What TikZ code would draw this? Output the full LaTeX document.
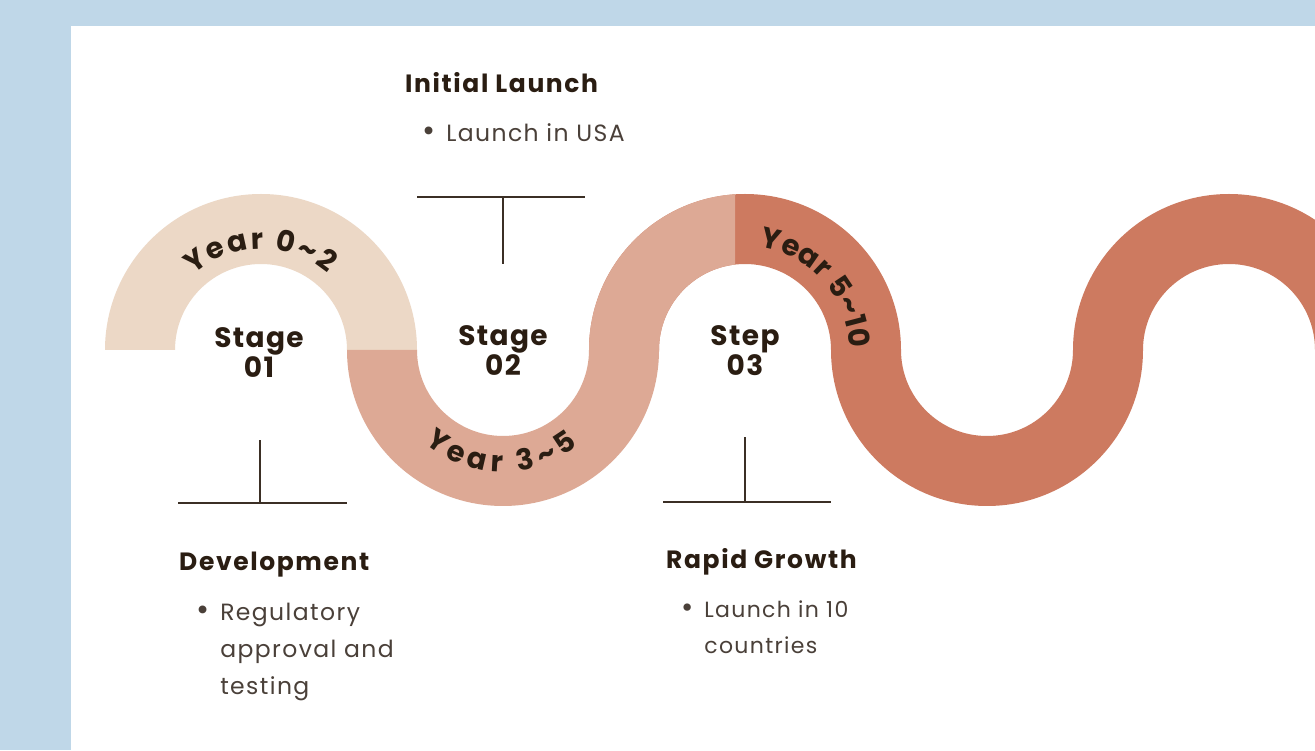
\documentclass[tikz,border=0pt]{standalone}
\usepackage{fontspec}
\setmainfont{Poppins}
\newfontfamily\headfont{Poppins}[LetterSpace=6.5]
\newfontfamily\bodyfont{Poppins}[LetterSpace=6]
\newfontfamily\stagefont{Poppins}[LetterSpace=5]
\usetikzlibrary{decorations.text}
\definecolor{bgblue}{HTML}{BFD7E8}
\definecolor{cbeige}{HTML}{ECD8C6}
\definecolor{csalmon}{HTML}{DDA995}
\definecolor{cterra}{HTML}{CD7A60}
\definecolor{ink}{HTML}{2A1D12}
\definecolor{bodyink}{HTML}{4A4039}
\definecolor{lineink}{HTML}{3B2F25}
\tikzset{
  head/.style={font=\headfont\fontsize{25}{28}\selectfont\bfseries, text=ink, inner sep=0pt},
  bodytext/.style={font=\bodyfont\fontsize{23.5}{37}\selectfont, text=bodyink, inner sep=0pt},
  stagelabel/.style={font=\stagefont\fontsize{28}{30}\selectfont\bfseries, text=ink, align=center, inner sep=0pt},
  tline/.style={draw=lineink, line width=2pt},
  yeartext/.style={decorate, decoration={text along path, text align={fit to path},
     text color=ink}}
}
\newcommand{\yrfmt}{\fontsize{29}{29}\selectfont\bfseries}
\newcommand{\bigdot}{\scalebox{1.35}{\textbullet}}
\begin{document}
\begin{tikzpicture}[x=1pt,y=1pt]
\useasboundingbox (0,0) rectangle (1315,750);
\fill[bgblue] (0,0) rectangle (1315,750);
\fill[white] (71,0) rectangle (1315,724);
\begin{scope}
\clip (71,0) rectangle (1315,724);
% arc 1 (beige, upper)
\fill[cbeige] (105,400) arc[start angle=180,end angle=0,radius=156]
  -- (347,400) arc[start angle=0,end angle=180,radius=86] -- cycle;
% arc 2 (salmon, lower)
\fill[csalmon] (347,400) arc[start angle=180,end angle=360,radius=156]
  -- (589,400) arc[start angle=360,end angle=180,radius=86] -- cycle;
% arcs 3-5 (terracotta)
\fill[cterra] (589,400) arc[start angle=180,end angle=0,radius=156]
  arc[start angle=180,end angle=360,radius=86]
  arc[start angle=180,end angle=0,radius=156]
  -- (1315,400) arc[start angle=0,end angle=180,radius=86]
  arc[start angle=360,end angle=180,radius=156]
  arc[start angle=0,end angle=180,radius=86] -- cycle;
% salmon part of arc 3
\begin{scope}
\clip (580,398) rectangle (735,600);
\fill[csalmon] (589,398) -- (589,400) arc[start angle=180,end angle=0,radius=156]
  -- (831,400) arc[start angle=0,end angle=180,radius=86] -- (659,398) -- cycle;
\end{scope}
\end{scope}
% year labels along the wave
\path[yeartext, decoration={text={|\yrfmt|Year 0{\textasciitilde}2}}]
  (261,400) ++(132:101) arc[start angle=132,end angle=49,radius=101];
\path[yeartext, decoration={text={|\yrfmt|Year 3{\textasciitilde}5}}]
  (503,400) ++(230:122) arc[start angle=230,end angle=308,radius=122];
\path[yeartext, decoration={text={|\yrfmt|Year 5{\textasciitilde}10}}]
  (745,400) ++(82:104) arc[start angle=82,end angle=1,radius=104];
% stage labels
\node[stagelabel] (s1) at (259,397) {Stage\\01};
\node[stagelabel] (s2) at (503,399) {Stage\\02};
\node[stagelabel] (s3) at (745,399) {Step\\03};
% T markers
\coordinate (t1l) at (417,553); \coordinate (t1r) at (585,553);
\coordinate (t1m) at (503,553); \coordinate (t1e) at (503,486);
\coordinate (t2l) at (178,247); \coordinate (t2r) at (347,247);
\coordinate (t2m) at (260,247); \coordinate (t2e) at (260,310);
\coordinate (t3l) at (663,248); \coordinate (t3r) at (831,248);
\coordinate (t3m) at (745,248); \coordinate (t3e) at (745,313);
\draw[tline] (t1l) -- (t1r); \draw[tline] (t1m) -- (t1e);
\draw[tline] (t2l) -- (t2r); \draw[tline] (t2m) -- (t2e);
\draw[tline] (t3l) -- (t3r); \draw[tline] (t3m) -- (t3e);
% texts
\node[head, anchor=base west] (h2) at (405,657) {Initial Launch};
\node[bodytext, anchor=base west] (b2) at (422,608)
  {\begin{tabular}[t]{@{}l@{\hspace{11pt}}l@{}}\bigdot & Launch in USA\end{tabular}};
\node[head, anchor=base west] (h1) at (179,179) {Development};
\node[bodytext, anchor=base west] (b1) at (196,129)
  {\begin{tabular}[t]{@{}l@{\hspace{11pt}}l@{}}\bigdot & Regulatory\\ & approval and\\ & testing\end{tabular}};
\node[head, anchor=base west] (h3) at (666,181) {Rapid Growth};
\node[bodytext, anchor=base west, font=\bodyfont\fontsize{22}{36}\selectfont] (b3) at (681,132)
  {\begin{tabular}[t]{@{}l@{\hspace{11pt}}l@{}}\bigdot & Launch in 10\\ & countries\end{tabular}};
\end{tikzpicture}
\end{document}
